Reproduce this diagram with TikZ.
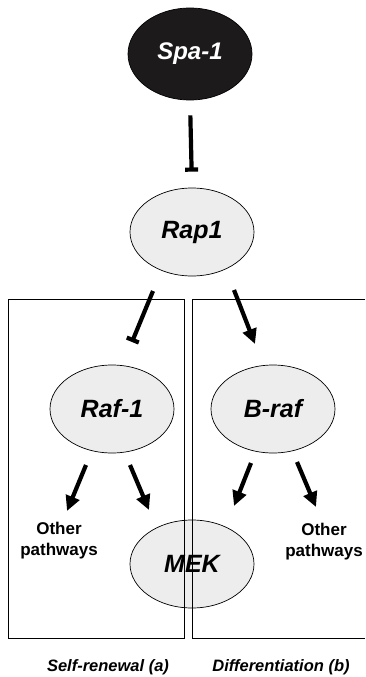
\documentclass[tikz,border=0pt]{standalone}
\usepackage{fontspec}
\setmainfont{Liberation Sans}
\usetikzlibrary{arrows.meta,shapes.geometric}
\definecolor{nodefill}{HTML}{EDEDED}
\definecolor{darkfill}{HTML}{1C1A1A}
\tikzset{
  x=1pt, y=1pt,
  protein/.style={ellipse, draw=black, line width=0.7pt, fill=nodefill,
    minimum width=124pt, minimum height=88pt, inner sep=0pt,
    font=\fontsize{25}{28}\selectfont\bfseries\itshape},
  activate/.style={line width=4.2pt, -{Triangle[length=15pt,width=14pt]}},
  inhibit/.style={line width=4.2pt, -{Bar[width=13pt]}},
  panel/.style={draw=black, line width=0.9pt},
  sidetext/.style={align=center, font=\fontsize{17}{21}\selectfont\bfseries},
  caption/.style={font=\fontsize{16.5}{19}\selectfont\bfseries\itshape}
}
\begin{document}
\begin{tikzpicture}
\useasboundingbox (0,0) rectangle (365,-677);

% proteins
\node[protein, fill=darkfill, text=white, minimum height=92pt,
      font=\fontsize{24}{28}\selectfont\bfseries\itshape] (spa) at (190,-54) {Spa-1};
\node[protein] (rap) at (192,-232) {Rap1};
\node[protein] (raf) at (112,-409) {Raf-1};
\node[protein] (braf) at (273,-409) {B-raf};
\node[protein] (mek) at (192,-564) {MEK};

% the two panels, drawn over MEK
\draw[panel] (8,-299) rectangle (184,-638);
\draw[panel] (365,-299) -- (192,-299) -- (192,-638) -- (365,-638);

% side labels
\node[sidetext] (otherL) at (59,-541) {Other\\pathways};
\node[sidetext] (otherR) at (324,-542) {Other\\pathways};

% captions
\node[caption] (capA) at (108,-667) {Self-renewal (a)};
\node[caption] (capB) at (281,-667) {Differentiation (b)};

% connector ends
\coordinate (rapL) at (153,-291);
\coordinate (rafTop) at (132,-342);
\coordinate (rapR) at (234,-290);
\coordinate (brafTop) at (255,-344);
\coordinate (rafLs) at (86,-465);
\coordinate (rafLe) at (67,-511);
\coordinate (rafRs) at (130,-465);
\coordinate (rafRe) at (149,-510);
\coordinate (brafLs) at (251,-463);
\coordinate (brafLe) at (234,-506);
\coordinate (brafRs) at (297,-462);
\coordinate (brafRe) at (316,-507);

% connectors
\draw[inhibit, shorten <=15pt, shorten >=16pt] (spa.south) -- (rap.north);
\draw[inhibit] (rapL) -- (rafTop);
\draw[activate] (rapR) -- (brafTop);
\draw[activate] (rafLs) -- (rafLe);
\draw[activate] (rafRs) -- (rafRe);
\draw[activate] (brafLs) -- (brafLe);
\draw[activate] (brafRs) -- (brafRe);
\end{tikzpicture}
\end{document}
